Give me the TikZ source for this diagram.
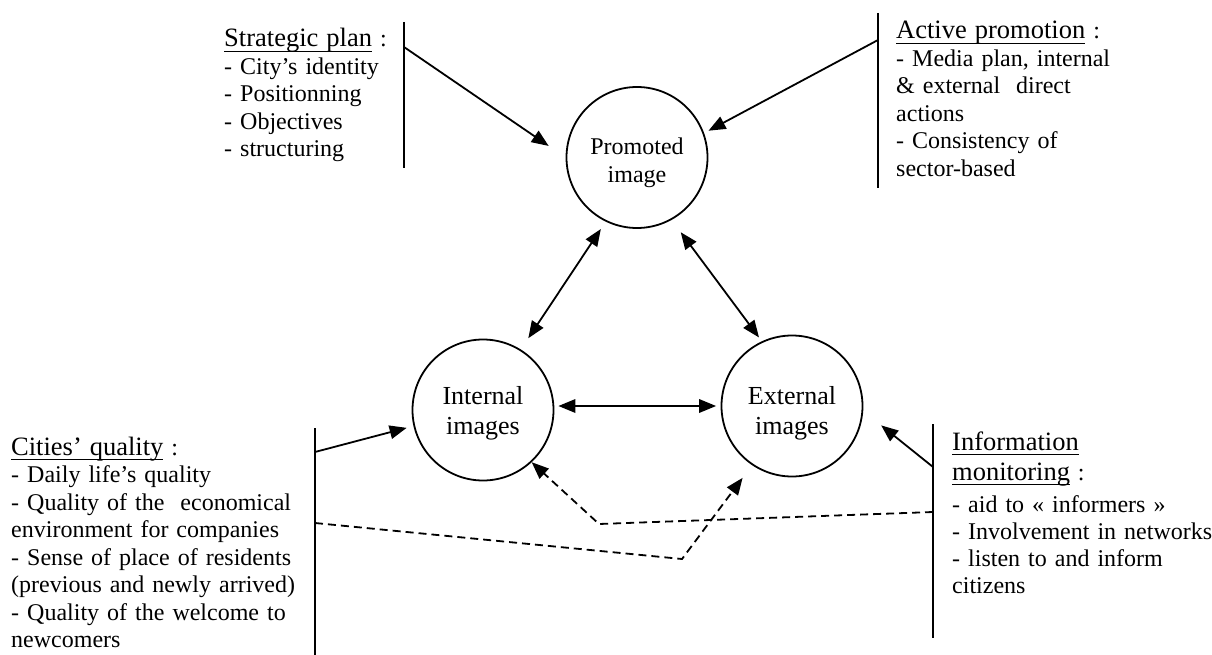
\documentclass[tikz,border=0pt]{standalone}
\usepackage{fontspec}
\setmainfont{Liberation Serif}
\usetikzlibrary{arrows.meta}

% body and heading sizes of the text blocks
\newcommand\bodyfont{\fontsize{24}{27.5}\selectfont}
\newcommand\headfont{\fontsize{26.5}{27.5}\selectfont}
% underlined heading with a fixed rule under the baseline
\newsavebox\hdbox
\newcommand\hdline[1]{\leavevmode\sbox\hdbox{#1}\rlap{\rule[-5pt]{\wd\hdbox}{1.4pt}}\usebox\hdbox}

\tikzset{
  txt/.style={anchor=base west, inner sep=0pt, text width=300pt, align=left, font=\bodyfont},
  circ/.style={circle, draw, line width=1.8pt, minimum size=141pt, inner sep=0pt},
  ctxt/.style={align=center, inner sep=0pt},
  bar/.style={line width=1.8pt},
  tip/.tip={Triangle[length=17pt,width=13.5pt]},
  link/.style={line width=1.8pt, -tip},
  dbl/.style={line width=1.8pt, tip-tip},
  dlink/.style={link, dash pattern=on 8pt off 5pt},
}

\begin{document}
\begin{tikzpicture}[x=1pt, y=-1pt]
\useasboundingbox (0,0) rectangle (1212,655);
\fill[white] (0,0) rectangle (1212,655);

% the three images
\node[circ, label={[ctxt, font=\fontsize{24}{28}\selectfont, yshift=-5pt]center:{Promoted\\image}}] (prom) at (637,157.5) {};
\node[circ, label={[ctxt, font=\fontsize{26}{30}\selectfont, yshift=-3pt]center:{Internal\\images}}] (int) at (483,410) {};
\node[circ, label={[ctxt, font=\fontsize{26}{30}\selectfont, yshift=-7pt]center:{External\\images}}] (ext) at (792,406) {};

% text blocks
\node[txt] (sp) at (224,47) {{\headfont\hdline{Strategic plan}} :\\- City’s identity\\- Positionning\\- Objectives\\- structuring};
\node[txt] (ap) at (896,39) {{\headfont\hdline{Active promotion}} :\\- Media plan, internal\\\& external\ \ direct\\actions\\- Consistency of\\sector-based};
\node[txt] (cq) at (11,455) {{\headfont\hdline{Cities’ quality}} :\\- Daily life’s quality\\- Quality of the\ \ economical\\environment for companies\\- Sense of place of residents\\(previous and newly arrived)\\- Quality of the welcome to\\newcomers};
\node[txt, font=\fontsize{24}{27}\selectfont] (im) at (952,450) {{\headfont\hdline{Information}}\\[3pt]{\headfont\hdline{monitoring}} :\\[5pt]- aid to «~informers~»\\- Involvement in networks\\- listen to and inform\\citizens};

% bars beside the text blocks
\coordinate (spT) at (404,22);  \coordinate (spB) at (404,168); \coordinate (spO) at (404,47);
\coordinate (apT) at (878,13);  \coordinate (apB) at (878,188); \coordinate (apO) at (878,40);
\coordinate (cqT) at (315,428); \coordinate (cqB) at (315,655); \coordinate (cqO) at (315,452); \coordinate (cqD) at (315,523);
\coordinate (imT) at (933,424); \coordinate (imB) at (933,638); \coordinate (imO) at (933,467); \coordinate (imD) at (933,512);
\draw[bar] (spT) -- (spB);
\draw[bar] (apT) -- (apB);
\draw[bar] (cqT) -- (cqB);
\draw[bar] (imT) -- (imB);

% influences on the images
\draw[link, shorten >=20.5pt] (spO) -- (prom.180);
\draw[link, shorten >=5pt] (apO) -- (prom.20);
\draw[link, shorten >=7pt] (cqO) -- (int.193.4);
\draw[link, shorten >=23pt] (imO) -- (ext.356);

% links between the images
\draw[dbl, shorten <=8.8pt, shorten >=13.5pt] (prom.244.5) -- (int.58.7);
\draw[dbl, shorten <=15.3pt, shorten >=4.8pt] (prom.299.1) -- (ext.115.5);
\draw[dbl, shorten <=4pt, shorten >=4.5pt] (int.east |- ext.west) -- (ext.west);

% dashed cross influences
\coordinate (bendA) at (682,559);
\coordinate (bendB) at (599,524);
\draw[dlink, shorten >=15.8pt] (cqD) -- (bendA) -- (ext.236.6);
\draw[dlink] (imD) -- (bendB) -- (int.313.8);
\end{tikzpicture}
\end{document}
